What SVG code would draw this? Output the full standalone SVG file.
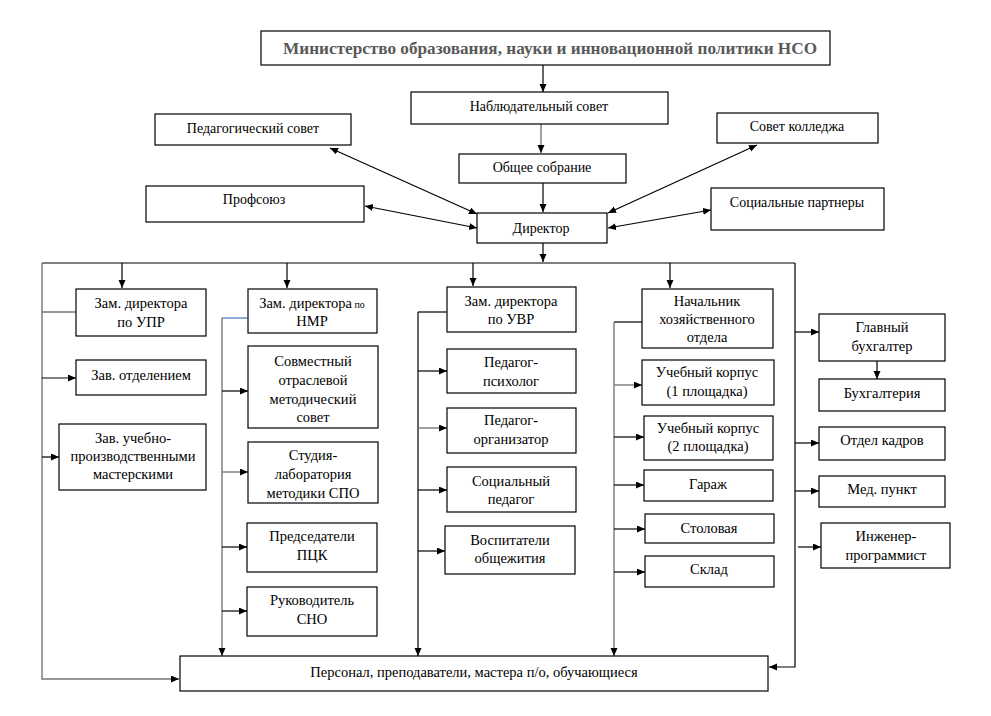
<svg xmlns="http://www.w3.org/2000/svg" width="991" height="716" viewBox="0 0 991 716">
<style>
rect{fill:#fff;stroke:#000;stroke-width:1.2}
text{font-family:"Liberation Serif",Tinos,"Times New Roman",Times,"Noto Serif","DejaVu Serif",FreeSerif,serif;font-size:14.5px;fill:#000;text-anchor:middle}
.t{font-size:14px}
.l{fill:none;stroke:#000;stroke-width:1.2}
.g{fill:none;stroke:#777;stroke-width:1.4}
.a{marker-end:url(#ar)}
.d{marker-end:url(#ar);marker-start:url(#ar)}
</style>
<defs>
<marker id="ar" markerUnits="userSpaceOnUse" markerWidth="9" markerHeight="8" refX="8" refY="3.5" orient="auto-start-reverse"><path d="M0,0 L8,3.5 L0,7 z" fill="#000"/></marker>
</defs>
<rect width="991" height="716" style="stroke:none"/>
<g id="connectors">
<line class="l a" x1="543" y1="65" x2="543" y2="92"/>
<line class="g a" x1="541" y1="124" x2="541" y2="153"/>
<line class="l a" x1="543" y1="183" x2="543" y2="212"/>
<line class="l d" x1="330" y1="148" x2="477" y2="214"/>
<line class="l d" x1="365" y1="206" x2="477" y2="228"/>
<line class="l d" x1="757" y1="145" x2="608" y2="213"/>
<line class="l d" x1="711" y1="210" x2="608" y2="228"/>
<line class="l a" x1="543" y1="243" x2="543" y2="262"/>
<polyline class="l" points="42,263 795,263"/>
<line class="l a" x1="122" y1="263" x2="122" y2="288"/>
<line class="l a" x1="287" y1="263" x2="287" y2="288"/>
<line class="l a" x1="473" y1="263" x2="473" y2="286"/>
<line class="l a" x1="670" y1="263" x2="670" y2="288"/>
<polyline class="g a" points="42,263 42,679 179,679"/>
<polyline class="l a" points="795,263 795,667 769,667"/>
<line class="g" x1="42" y1="312" x2="76" y2="312"/>
<line class="l a" x1="42" y1="378" x2="76" y2="378"/>
<line class="l a" x1="42" y1="457" x2="59" y2="457"/>
<line x1="222" y1="318" x2="247" y2="318" stroke="#4472c4" stroke-width="1.2"/>
<line class="g a" x1="222" y1="318" x2="222" y2="656"/>
<line class="l a" x1="222" y1="391" x2="248" y2="391"/>
<line class="g a" x1="222" y1="472" x2="248" y2="472"/>
<line class="l a" x1="222" y1="547" x2="247" y2="547"/>
<line class="l a" x1="222" y1="611" x2="247" y2="611"/>
<line class="l" x1="418" y1="312" x2="447" y2="312"/>
<line class="l a" x1="418" y1="312" x2="418" y2="656"/>
<line class="l a" x1="418" y1="371" x2="447" y2="371"/>
<line class="g a" x1="418" y1="428" x2="447" y2="428"/>
<line class="l a" x1="418" y1="490" x2="447" y2="490"/>
<line class="l a" x1="418" y1="551" x2="445" y2="551"/>
<line class="l" x1="614" y1="322" x2="642" y2="322"/>
<line class="g a" x1="614" y1="322" x2="614" y2="656"/>
<line class="g a" x1="614" y1="385" x2="642" y2="385"/>
<line class="l a" x1="614" y1="437" x2="644" y2="437"/>
<line class="l a" x1="614" y1="485" x2="644" y2="485"/>
<line class="l a" x1="614" y1="529" x2="645" y2="529"/>
<line class="l a" x1="614" y1="572" x2="645" y2="572"/>
<line class="l a" x1="795" y1="332" x2="819" y2="332"/>
<line class="l a" x1="877" y1="361" x2="877" y2="379"/>
<line class="l a" x1="795" y1="443" x2="819" y2="443"/>
<line class="l a" x1="795" y1="491" x2="819" y2="491"/>
<line class="l a" x1="798" y1="547" x2="821" y2="547"/>
</g>
<g id="ministry"><rect x="261" y="31" width="569" height="34"/><text x="550" y="54" style="font-weight:bold;font-size:17px;fill:#595959" textLength="534" lengthAdjust="spacingAndGlyphs">Министерство образования, науки и инновационной политики НСО</text></g>
<g id="nabl"><rect x="411" y="92" width="257" height="32"/><text class="t" x="539" y="111">Наблюдательный совет</text></g>
<g id="pedsovet"><rect x="155" y="114" width="196" height="31"/><text class="t" x="253" y="133">Педагогический совет</text></g>
<g id="sovet"><rect x="717" y="113" width="161" height="30"/><text class="t" x="797" y="131">Совет колледжа</text></g>
<g id="obshee"><rect x="459" y="154" width="167" height="29"/><text class="t" x="542" y="172">Общее собрание</text></g>
<g id="profsoyuz"><rect x="146" y="186" width="218" height="36"/><text class="t" x="254" y="204">Профсоюз</text></g>
<g id="partnery"><rect x="711" y="188" width="173" height="42"/><text class="t" x="797" y="207">Социальные партнеры</text></g>
<g id="director"><rect x="477" y="213" width="130" height="30"/><text class="t" x="541" y="233">Директор</text></g>
<g id="upr"><rect x="76" y="289" width="130" height="47"/><text x="141" y="308">Зам. директора</text><text x="141" y="327">по УПР</text></g>
<g id="zavotd"><rect x="76" y="360" width="130" height="35"/><text x="141" y="380">Зав. отделением</text></g>
<g id="zavmast"><rect x="59" y="424" width="147" height="66"/><text x="133" y="443">Зав. учебно-</text><text x="133" y="461">производственными</text><text x="133" y="479">мастерскими</text></g>
<g id="nmr"><rect x="248" y="289" width="129" height="44"/><text x="312" y="308">Зам. директора<tspan style="font-size:10px"> по</tspan></text><text x="312" y="326">НМР</text></g>
<g id="somk"><rect x="248" y="346" width="130" height="82"/><text x="313" y="366">Совместный</text><text x="313" y="385">отраслевой</text><text x="313" y="404">методический</text><text x="313" y="422">совет</text></g>
<g id="studio"><rect x="248" y="442" width="130" height="61"/><text x="313" y="460">Студия-</text><text x="313" y="479">лаборатория</text><text x="313" y="498">методики СПО</text></g>
<g id="pck"><rect x="247" y="523" width="130" height="49"/><text x="312" y="541">Председатели</text><text x="312" y="560">ПЦК</text></g>
<g id="sno"><rect x="247" y="587" width="130" height="49"/><text x="312" y="605">Руководитель</text><text x="312" y="624">СНО</text></g>
<g id="uvr"><rect x="447" y="287" width="129" height="45"/><text x="511" y="306">Зам. директора</text><text x="511" y="324">по УВР</text></g>
<g id="psych"><rect x="447" y="349" width="129" height="44"/><text x="511" y="367">Педагог-</text><text x="511" y="386">психолог</text></g>
<g id="org"><rect x="447" y="408" width="129" height="45"/><text x="511" y="425">Педагог-</text><text x="511" y="444">организатор</text></g>
<g id="socped"><rect x="447" y="467" width="129" height="45"/><text x="511" y="486">Социальный</text><text x="511" y="504">педагог</text></g>
<g id="vosp"><rect x="445" y="526" width="130" height="48"/><text x="510" y="545">Воспитатели</text><text x="510" y="563">общежития</text></g>
<g id="hoz"><rect x="642" y="289" width="131" height="59"/><text x="707" y="306">Начальник</text><text x="707" y="324">хозяйственного</text><text x="707" y="342">отдела</text></g>
<g id="korp1"><rect x="642" y="360" width="132" height="45"/><text x="707" y="377">Учебный корпус</text><text x="707" y="396">(1 площадка)</text></g>
<g id="korp2"><rect x="644" y="416" width="129" height="44"/><text x="708" y="433">Учебный корпус</text><text x="708" y="451">(2 площадка)</text></g>
<g id="garazh"><rect x="644" y="470" width="129" height="31"/><text x="708" y="489">Гараж</text></g>
<g id="stolovaya"><rect x="645" y="514" width="129" height="29"/><text x="709" y="533">Столовая</text></g>
<g id="sklad"><rect x="645" y="556" width="129" height="31"/><text x="709" y="574">Склад</text></g>
<g id="glbuh"><rect x="819" y="314" width="126" height="47"/><text x="882" y="332">Главный</text><text x="882" y="351">бухгалтер</text></g>
<g id="buh"><rect x="819" y="379" width="126" height="32"/><text x="882" y="398">Бухгалтерия</text></g>
<g id="kadry"><rect x="819" y="427" width="126" height="33"/><text x="882" y="445">Отдел кадров</text></g>
<g id="med"><rect x="819" y="476" width="126" height="31"/><text x="882" y="494">Мед. пункт</text></g>
<g id="ing"><rect x="821" y="523" width="129" height="45"/><text x="886" y="541">Инженер-</text><text x="886" y="560">программист</text></g>
<g id="personal"><rect x="180" y="656" width="588" height="35"/><text x="474" y="677">Персонал, преподаватели, мастера п/о, обучающиеся</text></g>
</svg>
